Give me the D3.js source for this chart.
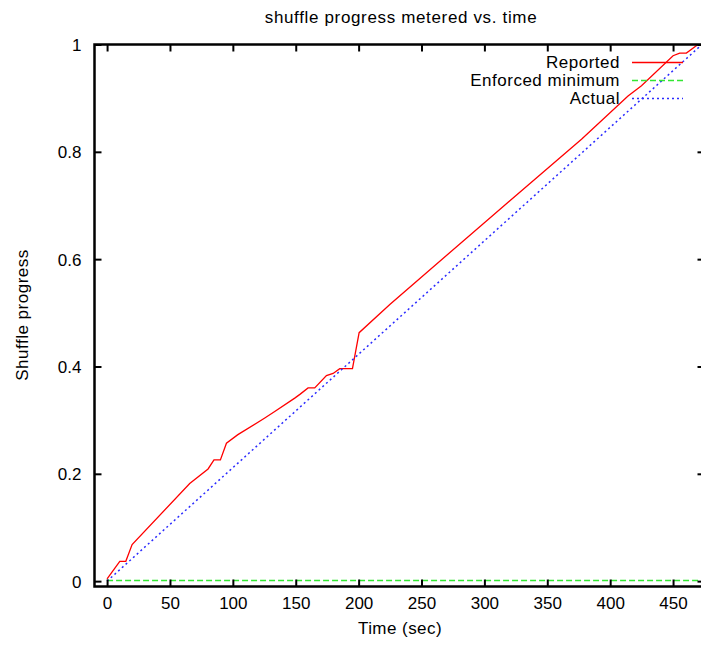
<!DOCTYPE html>
<html>
<head>
<meta charset="utf-8">
<script src="https://cdn.jsdelivr.net/npm/d3@7"></script>
<style>
  html, body { margin: 0; padding: 0; background: #fff; }
  svg { display: block; font-family: "Liberation Sans", Arial, Helvetica, sans-serif; }
</style>
</head>
<body>
<svg id="chart" width="701" height="645"></svg>
<script>
// Shuffle progress samples (time in seconds, fraction complete)
const reportedTime = [0, 10.1, 14.9, 19.9, 65.7, 80.3, 85, 90.1, 94.9, 104, 125.4, 133.3, 149.2, 153.3, 159.8, 165.1, 174.4, 179.7, 185, 195.1, 200.4, 224.8, 300, 377.2, 414.2, 424.9, 450, 455.3, 460.6, 469.8];
const reportedProgress = [0.004, 0.037, 0.037, 0.068, 0.182, 0.209, 0.226, 0.226, 0.257, 0.273, 0.304, 0.316, 0.341, 0.348, 0.360, 0.360, 0.383, 0.387, 0.396, 0.396, 0.463, 0.5155, 0.668, 0.8233, 0.904, 0.923, 0.979, 0.984, 0.984, 1.0];
const minimumTime = [0, 475];
const minimumProgress = [0.001, 0.001];
const actualTime = [0, 473];
const actualProgress = [0, 1];

const xTicks = [0, 50, 100, 150, 200, 250, 300, 350, 400, 450];
const yTicks = [0, 0.2, 0.4, 0.6, 0.8, 1];

const seriesNames = ["Reported", "Enforced minimum", "Actual"];
const seriesColors = ["#ff0000", "#33e633", "#2b2bff"];
const seriesDash = [null, "6,3", "2,3"];

const svg = d3.select("#chart");
const plotLeft = 94.5, plotRight = 704.5, plotTop = 44.5, plotBottom = 586.5;

const x = d3.scaleLinear().domain([-10, 475]).range([plotLeft, plotRight]);
const y = d3.scaleLinear().domain([-0.01, 1]).range([plotBottom, plotTop]);

svg.append("defs").append("clipPath").attr("id", "plotClip")
  .append("rect").attr("x", plotLeft).attr("y", plotTop)
  .attr("width", plotRight - plotLeft).attr("height", plotBottom - plotTop);

const toPoints = (ts, vs) => ts.map((t, i) => [t, vs[i]]);
const series = [
  toPoints(reportedTime, reportedProgress),
  toPoints(minimumTime, minimumProgress),
  toPoints(actualTime, actualProgress)
];

const line = d3.line().x(d => x(d[0])).y(d => y(d[1]));

const plot = svg.append("g").attr("clip-path", "url(#plotClip)");
series.forEach((pts, i) => {
  plot.append("path")
    .attr("d", line(pts))
    .attr("fill", "none")
    .attr("stroke", seriesColors[i])
    .attr("stroke-width", i === 0 ? 1.3 : 1.5)
    .attr("stroke-dasharray", seriesDash[i]);
});

// Axes: ticks point inward and are mirrored on top and right
const tickLen = 7;
function styleAxis(g) {
  g.select(".domain").remove();
  g.selectAll(".tick line").attr("stroke", "#000").attr("stroke-width", 2);
  g.selectAll(".tick text").attr("fill", "#000").attr("font-size", 17)
    .attr("font-family", "Liberation Sans, Arial, sans-serif");
}

const xAxis = svg.append("g").attr("transform", `translate(0,${plotBottom})`)
  .call(d3.axisBottom(x).tickValues(xTicks).tickFormat(d3.format("d")).tickSizeInner(-tickLen).tickSizeOuter(0).tickPadding(10))
  .call(styleAxis);
xAxis.selectAll(".tick text").attr("y", 0).attr("dy", null).attr("transform", "translate(0,22)");

svg.append("g").attr("transform", `translate(0,${plotTop})`)
  .call(d3.axisTop(x).tickValues(xTicks).tickFormat("").tickSizeInner(-tickLen).tickSizeOuter(0))
  .call(styleAxis);

const yAxis = svg.append("g").attr("transform", `translate(${plotLeft},0)`)
  .call(d3.axisLeft(y).tickValues(yTicks).tickFormat(d => d === 0 || d === 1 ? d3.format("d")(d) : d3.format(".1f")(d)).tickSizeInner(-tickLen).tickSizeOuter(0))
  .call(styleAxis);
yAxis.selectAll(".tick text").attr("x", 81.5 - plotLeft).attr("dy", "0.35em").attr("text-anchor", "end");

svg.append("g").attr("transform", `translate(${plotRight},0)`)
  .call(d3.axisRight(y).tickValues(yTicks).tickFormat("").tickSizeInner(-tickLen).tickSizeOuter(0))
  .call(styleAxis);

// Plot border
svg.append("rect")
  .attr("x", plotLeft).attr("y", plotTop)
  .attr("width", plotRight - plotLeft).attr("height", plotBottom - plotTop)
  .attr("fill", "none").attr("stroke", "#000").attr("stroke-width", 2.5);

// Title and axis labels
svg.append("text").attr("x", 401).attr("y", 23).attr("text-anchor", "middle")
  .attr("font-size", 17).attr("letter-spacing", 0.65).text("shuffle progress metered vs. time");
svg.append("text").attr("x", 400).attr("y", 634).attr("text-anchor", "middle")
  .attr("font-size", 17).attr("letter-spacing", 0.45).text("Time (sec)");
svg.append("text").attr("transform", "translate(28,315) rotate(-90)").attr("text-anchor", "middle")
  .attr("font-size", 17).attr("letter-spacing", 0.5).text("Shuffle progress");

// Legend
const legend = svg.append("g");
seriesNames.forEach((name, i) => {
  const ly = 62.5 + i * 18;
  legend.append("text").attr("x", 620).attr("y", ly + 5.5).attr("text-anchor", "end")
    .attr("font-size", 17).attr("letter-spacing", 0.5).text(name);
  legend.append("line").attr("x1", 632).attr("x2", 683).attr("y1", ly).attr("y2", ly)
    .attr("stroke", seriesColors[i]).attr("stroke-width", i === 0 ? 1.3 : 1.5)
    .attr("stroke-dasharray", seriesDash[i]);
});
</script>
</body>
</html>
